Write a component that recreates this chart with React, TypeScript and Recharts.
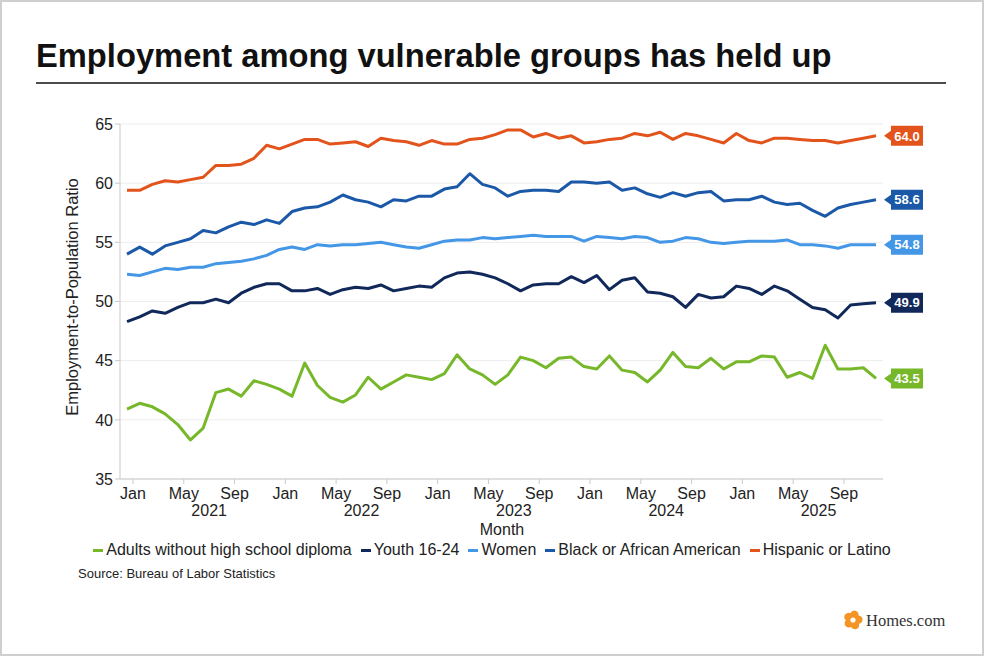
import React from "react";
import { LineChart, Line, XAxis, YAxis, CartesianGrid, LabelList } from "recharts";

// monthly, Jan 2021 - Dec 2025
const months = [
  "2021-01", "2021-02", "2021-03", "2021-04", "2021-05", "2021-06", "2021-07", "2021-08", "2021-09", "2021-10", "2021-11", "2021-12",
  "2022-01", "2022-02", "2022-03", "2022-04", "2022-05", "2022-06", "2022-07", "2022-08", "2022-09", "2022-10", "2022-11", "2022-12",
  "2023-01", "2023-02", "2023-03", "2023-04", "2023-05", "2023-06", "2023-07", "2023-08", "2023-09", "2023-10", "2023-11", "2023-12",
  "2024-01", "2024-02", "2024-03", "2024-04", "2024-05", "2024-06", "2024-07", "2024-08", "2024-09", "2024-10", "2024-11", "2024-12",
  "2025-01", "2025-02", "2025-03", "2025-04", "2025-05", "2025-06", "2025-07", "2025-08", "2025-09", "2025-10", "2025-11", "2025-12",
];

const adults = [
  40.9, 41.4, 41.1, 40.5, 39.6, 38.3, 39.3, 42.3, 42.6, 42.0, 43.3, 43.0,
  42.6, 42.0, 44.8, 42.9, 41.9, 41.5, 42.1, 43.6, 42.6, 43.2, 43.8, 43.6,
  43.4, 43.9, 45.5, 44.3, 43.8, 43.0, 43.8, 45.3, 45.0, 44.4, 45.2, 45.3,
  44.5, 44.3, 45.4, 44.2, 44.0, 43.2, 44.2, 45.7, 44.5, 44.4, 45.2, 44.3,
  44.9, 44.9, 45.4, 45.3, 43.6, 44.0, 43.5, 46.3, 44.3, 44.3, 44.4, 43.5,
];

const youth = [
  48.3, 48.7, 49.2, 49.0, 49.5, 49.9, 49.9, 50.2, 49.9, 50.7, 51.2, 51.5,
  51.5, 50.9, 50.9, 51.1, 50.6, 51.0, 51.2, 51.1, 51.4, 50.9, 51.1, 51.3,
  51.2, 52.0, 52.4, 52.5, 52.3, 52.0, 51.5, 50.9, 51.4, 51.5, 51.5, 52.1,
  51.6, 52.2, 51.0, 51.8, 52.0, 50.8, 50.7, 50.4, 49.5, 50.6, 50.3, 50.4,
  51.3, 51.1, 50.6, 51.3, 50.9, 50.2, 49.5, 49.3, 48.6, 49.7, 49.8, 49.9,
];

const women = [
  52.3, 52.2, 52.5, 52.8, 52.7, 52.9, 52.9, 53.2, 53.3, 53.4, 53.6, 53.9,
  54.4, 54.6, 54.4, 54.8, 54.7, 54.8, 54.8, 54.9, 55.0, 54.8, 54.6, 54.5,
  54.8, 55.1, 55.2, 55.2, 55.4, 55.3, 55.4, 55.5, 55.6, 55.5, 55.5, 55.5,
  55.1, 55.5, 55.4, 55.3, 55.5, 55.4, 55.0, 55.1, 55.4, 55.3, 55.0, 54.9,
  55.0, 55.1, 55.1, 55.1, 55.2, 54.8, 54.8, 54.7, 54.5, 54.8, 54.8, 54.8,
];

const black = [
  54.0, 54.6, 54.0, 54.7, 55.0, 55.3, 56.0, 55.8, 56.3, 56.7, 56.5, 56.9,
  56.6, 57.6, 57.9, 58.0, 58.4, 59.0, 58.6, 58.4, 58.0, 58.6, 58.5, 58.9,
  58.9, 59.5, 59.7, 60.8, 59.9, 59.6, 58.9, 59.3, 59.4, 59.4, 59.3, 60.1,
  60.1, 60.0, 60.1, 59.4, 59.6, 59.1, 58.8, 59.2, 58.9, 59.2, 59.3, 58.5,
  58.6, 58.6, 58.9, 58.4, 58.2, 58.3, 57.7, 57.2, 57.9, 58.2, 58.4, 58.6,
];

const hispanic = [
  59.4, 59.4, 59.9, 60.2, 60.1, 60.3, 60.5, 61.5, 61.5, 61.6, 62.1, 63.2,
  62.9, 63.3, 63.7, 63.7, 63.3, 63.4, 63.5, 63.1, 63.8, 63.6, 63.5, 63.2,
  63.6, 63.3, 63.3, 63.7, 63.8, 64.1, 64.5, 64.5, 63.9, 64.2, 63.8, 64.0,
  63.4, 63.5, 63.7, 63.8, 64.2, 64.0, 64.3, 63.7, 64.2, 64.0, 63.7, 63.4,
  64.2, 63.6, 63.4, 63.8, 63.8, 63.7, 63.6, 63.6, 63.4, 63.6, 63.8, 64.0,
];

const yTicks = [35, 40, 45, 50, 55, 60, 65];
const monthNames = ["Jan", "Feb", "Mar", "Apr", "May", "Jun", "Jul", "Aug", "Sep", "Oct", "Nov", "Dec"];

const series = [
  { key: "adults", name: "Adults without high school diploma", color: "#77b82a" },
  { key: "youth", name: "Youth 16-24", color: "#10285a" },
  { key: "women", name: "Women", color: "#4496e6" },
  { key: "black", name: "Black or African American", color: "#1b59a8" },
  { key: "hispanic", name: "Hispanic or Latino", color: "#e2541c" },
];

const data = months.map((m, i) => ({
  month: m,
  adults: adults[i],
  youth: youth[i],
  women: women[i],
  black: black[i],
  hispanic: hispanic[i],
}));

const FONT = "'Liberation Sans', Arial, Helvetica, sans-serif";
const STEP = 749 / (months.length - 1); // px per month in the plot

function MonthTick(props: any) {
  const { x, y, payload } = props;
  const [yr, mo] = String(payload.value).split("-");
  const tx = x + 6;
  return (
    <g>
      <line x1={tx} x2={tx} y1={y} y2={y + 5} stroke="#c9c9c9" />
      <text x={tx} y={y + 20} textAnchor="middle" fill="#222" fontSize={16}>
        {monthNames[Number(mo) - 1]}
      </text>
      {mo === "05" && (
        <text x={tx + 2 * STEP} y={y + 37} textAnchor="middle" fill="#222" fontSize={16}>
          {yr}
        </text>
      )}
    </g>
  );
}

const endLabel = (color: string) => (props: any) => {
  const { x, y, value, index } = props;
  if (index !== months.length - 1) return null;
  const tip = x + 8;
  const bx = x + 15;
  const bw = 32;
  const bh = 20;
  return (
    <g>
      <path
        d={`M${tip},${y} L${bx},${y - 5} L${bx},${y - bh / 2} L${bx + bw},${y - bh / 2} L${bx + bw},${y + bh / 2} L${bx},${y + bh / 2} L${bx},${y + 5} Z`}
        fill={color}
      />
      <text x={bx + bw / 2} y={y} dy="0.36em" textAnchor="middle" fill="#fff" fontSize={13} fontWeight={700}>
        {Number(value).toFixed(1)}
      </text>
    </g>
  );
};

function Logo() {
  const petals = [0, 1, 2, 3, 4];
  return (
    <g>
      <g transform="translate(853,620)">
        {petals.map((k) => (
          <ellipse key={k} cx={0} cy={-5.2} rx={4.3} ry={4.4} fill="#f39425" transform={`rotate(${k * 72 + 15})`} />
        ))}
        <circle r={2.6} fill="#fff" />
      </g>
      <text x={866} y={626} fontFamily="'Liberation Serif', 'DejaVu Serif', serif" fontSize={16.5} fill="#333">
        Homes.com
      </text>
    </g>
  );
}

export default function App() {
  return (
    <div style={{ position: "relative", width: 984, height: 656, fontFamily: FONT, background: "#fff" }}>
      <style>{"body{margin:0;}"}</style>
      <svg width={984} height={656} style={{ position: "absolute", left: 0, top: 0 }}>
        <rect x={1} y={1} width={982} height={654} fill="none" stroke="#cfcfcf" strokeWidth={2} />
        <text x={36} y={67} fontSize={32.7} fontWeight={700} fill="#111">
          Employment among vulnerable groups has held up
        </text>
        <line x1={36} x2={946} y1={83} y2={83} stroke="#111" strokeWidth={1.5} />
        <text transform="translate(78,297) rotate(-90)" textAnchor="middle" fontSize={16.5} fill="#222">
          Employment-to-Population Ratio
        </text>
        <text x={502} y={535} textAnchor="middle" fontSize={16} fill="#222">
          Month
        </text>
        <text x={78} y={578} fontSize={13} fill="#222">
          Source: Bureau of Labor Statistics
        </text>
        <Logo />
      </svg>

      <div style={{ position: "absolute", left: 0, top: 0 }}>
        <LineChart width={984} height={656} data={data} margin={{ top: 124, right: 101, bottom: 137, left: 70 }}>
          <CartesianGrid vertical={false} stroke="#ececec" />
          <XAxis
            dataKey="month"
            interval={3}
            height={40}
            padding={{ left: 7, right: 7 }}
            axisLine={{ stroke: "#c9c9c9" }}
            tickLine={false}
            tickSize={0}
            tickMargin={0}
            tick={<MonthTick />}
          />
          <YAxis
            domain={[35, 65]}
            ticks={yTicks}
            width={50}
            tickSize={5}
            tickMargin={2}
            axisLine={{ stroke: "#c9c9c9" }}
            tickLine={{ stroke: "#c9c9c9" }}
            tick={{ fill: "#222", fontSize: 16 }}
          />
          {series.map((s) => (
            <Line
              key={s.key}
              dataKey={s.key}
              name={s.name}
              stroke={s.color}
              strokeWidth={3}
              strokeLinejoin="round"
              dot={false}
              activeDot={false}
              isAnimationActive={false}
            >
              <LabelList dataKey={s.key} content={endLabel(s.color)} />
            </Line>
          ))}
        </LineChart>
      </div>

      <div
        style={{
          position: "absolute",
          left: 0,
          top: 541,
          width: 984,
          display: "flex",
          justifyContent: "center",
          gap: 9,
          fontSize: 16,
          lineHeight: "18px",
          color: "#222",
        }}
      >
        {series.map((s) => (
          <span key={s.key} style={{ display: "flex", alignItems: "center" }}>
            <span style={{ display: "inline-block", width: 10, height: 3, background: s.color, marginRight: 3 }} />
            {s.name}
          </span>
        ))}
      </div>
    </div>
  );
}
